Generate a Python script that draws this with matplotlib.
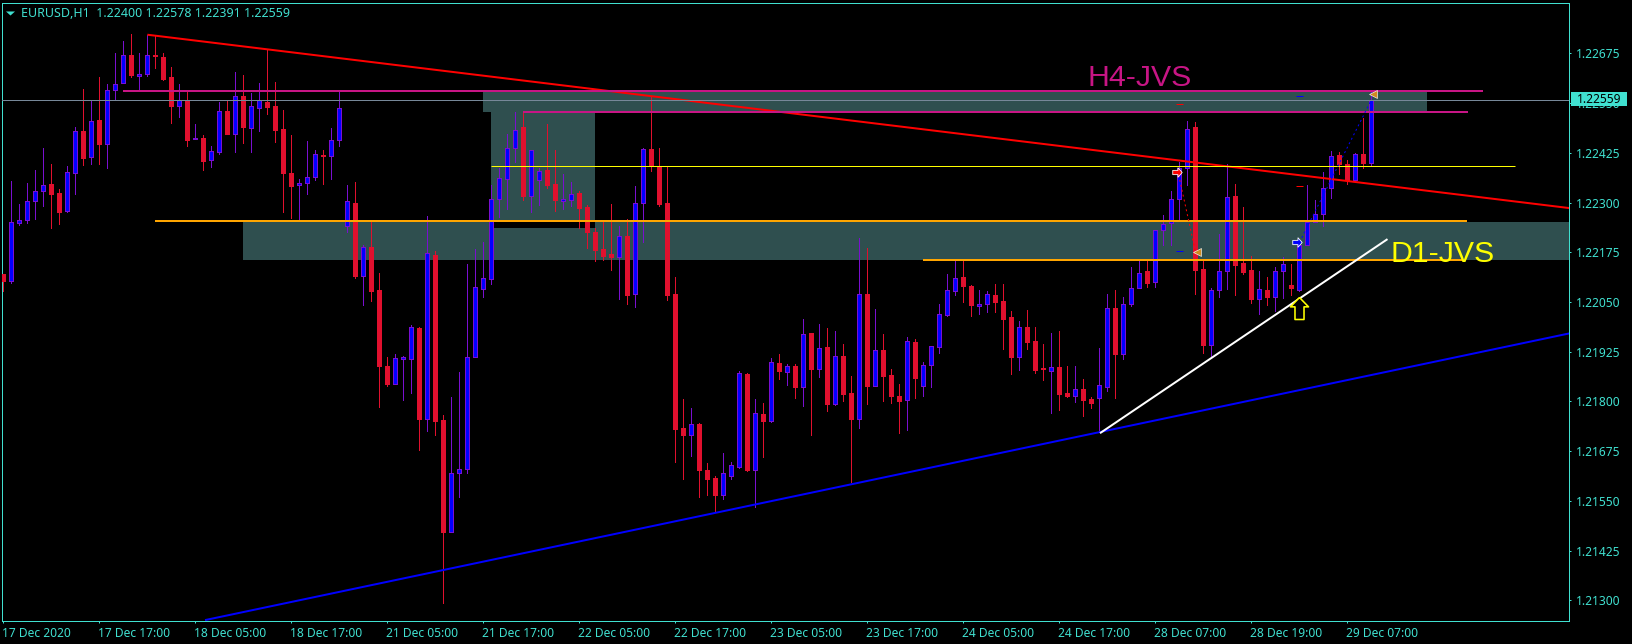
import numpy as np
import matplotlib
matplotlib.use("Agg")
import matplotlib.pyplot as plt
from matplotlib.patches import Rectangle
from matplotlib.path import Path
from matplotlib.transforms import blended_transform_factory, ScaledTranslation

# hourly bars, prices in 1/100000
open_ = [122120, 122103, 122249, 122257, 122304, 122330, 122346, 122324, 122279, 122375, 122480, 122415,
         122507, 122447, 122584, 122601, 122671, 122619, 122624, 122672, 122666, 122615, 122543, 122559,
         122460, 122462, 122408, 122427, 122529, 122473, 122569, 122488, 122538, 122554, 122542, 122484,
         122374, 122345, 122350, 122365, 122419, 122418, 122458, 122242, 122298, 122116, 122187, 122080,
         121889, 121844, 121907, 121907, 121984, 121756, 122167, 121752, 121472, 121621, 121631, 121912,
         122083, 122108, 122308, 122358, 122438, 122489, 122317, 122357, 122382, 122346, 122305, 122307,
         122323, 122289, 122227, 122182, 122170, 122164, 122216, 122071, 122299, 122434, 122390, 122300,
         122070, 121732, 121715, 121743, 121627, 121607, 121565, 121613, 121635, 121869, 121628, 121768,
         121751, 121896, 121875, 121889, 121836, 121972, 121882, 121937, 121794, 121914, 121821, 121756,
         122069, 121839, 121929, 121866, 121813, 121804, 121949, 121839, 121892, 121937, 122018, 122078,
         122112, 122090, 122040, 122046, 122067, 122052, 122011, 121912, 121986, 121951, 121884, 121877,
         121886, 121821, 121814, 121831, 121806, 121809, 121837, 122036, 121920, 122046, 122086, 122128,
         122101, 122232, 122248, 122309, 122388, 122489, 122132, 121942, 122081, 122128, 122316, 122147,
         122130, 122058, 122080, 122063, 122128, 122092, 122080, 122192, 122251, 122272, 122337, 122419,
         122397, 122356, 122422, 122400]
high = [122120, 122353, 122296, 122349, 122382, 122436, 122397, 122333, 122391, 122490, 122585, 122558,
        122615, 122599, 122675, 122705, 122724, 122675, 122722, 122722, 122675, 122640, 122598, 122578,
        122497, 122469, 122442, 122553, 122558, 122627, 122620, 122575, 122600, 122685, 122603, 122532,
        122470, 122359, 122455, 122432, 122432, 122487, 122579, 122343, 122351, 122192, 122253, 122123,
        121911, 121919, 121913, 121992, 121988, 122266, 122178, 121766, 121811, 121873, 122145, 122183,
        122201, 122344, 122387, 122472, 122527, 122526, 122431, 122387, 122497, 122432, 122373, 122351,
        122328, 122295, 122236, 122251, 122296, 122241, 122258, 122341, 122437, 122566, 122437, 122390,
        122113, 121806, 121783, 121746, 121645, 121612, 121670, 121648, 121876, 121871, 121806, 121796,
        121909, 121919, 121894, 121894, 122007, 121972, 121994, 121984, 121977, 121944, 121864, 122211,
        122185, 122032, 121969, 121881, 121844, 121962, 121957, 121899, 121938, 122045, 122120, 122155,
        122155, 122092, 122080, 122077, 122095, 122095, 122027, 122002, 122030, 121987, 121944, 121972,
        121977, 121889, 121889, 121856, 121811, 121934, 122070, 122080, 122062, 122138, 122153, 122153,
        122230, 122268, 122329, 122402, 122505, 122502, 122153, 122085, 122221, 122397, 122346, 122289,
        122165, 122128, 122113, 122138, 122163, 122145, 122198, 122344, 122306, 122377, 122429, 122427,
        122407, 122424, 122512, 122578]
low = [122078, 122098, 122243, 122249, 122258, 122291, 122236, 122246, 122276, 122321, 122394, 122398,
       122398, 122387, 122559, 122601, 122615, 122583, 122618, 122638, 122608, 122500, 122515, 122442,
       122460, 122382, 122389, 122422, 122472, 122427, 122449, 122427, 122480, 122522, 122452, 122276,
       122261, 122254, 122321, 122356, 122346, 122359, 122442, 122226, 122110, 122042, 122052, 121786,
       121839, 121844, 121804, 121821, 121678, 121725, 121715, 121294, 121472, 121560, 121621, 121912,
       122062, 122095, 122263, 122285, 122402, 122306, 122276, 122293, 122336, 122279, 122283, 122291,
       122236, 122185, 122153, 122155, 122130, 122057, 122045, 122037, 122202, 122379, 122291, 122055,
       121648, 121605, 121663, 121559, 121565, 121522, 121554, 121605, 121632, 121625, 121534, 121660,
       121748, 121856, 121841, 121808, 121788, 121715, 121861, 121776, 121791, 121801, 121597, 121733,
       121793, 121839, 121801, 121796, 121720, 121728, 121808, 121813, 121836, 121922, 122015, 122067,
       122050, 122015, 122020, 122025, 122025, 121932, 121869, 121879, 121932, 121871, 121854, 121771,
       121778, 121811, 121798, 121763, 121783, 121723, 121826, 121808, 121907, 122040, 122086, 122087,
       122087, 122193, 122193, 122256, 122344, 122070, 121921, 121911, 122062, 122082, 122067, 122120,
       122047, 122020, 122042, 122027, 122060, 122067, 122077, 122192, 122251, 122241, 122311, 122372,
       122346, 122356, 122387, 122391]
close = [122103, 122250, 122256, 122305, 122330, 122343, 122321, 122276, 122376, 122479, 122412, 122504,
         122447, 122584, 122599, 122670, 122620, 122622, 122672, 122669, 122610, 122543, 122559, 122457,
         122462, 122404, 122429, 122529, 122472, 122569, 122490, 122542, 122557, 122540, 122482, 122374,
         122341, 122348, 122363, 122421, 122418, 122456, 122537, 122305, 122115, 122187, 122077, 121890,
         121844, 121908, 121911, 121986, 121756, 122172, 121751, 121472, 121619, 121629, 121911, 122087,
         122109, 122310, 122361, 122438, 122483, 122317, 122431, 122380, 122343, 122306, 122310, 122322,
         122287, 122226, 122181, 122165, 122162, 122215, 122067, 122300, 122434, 122392, 122296, 122067,
         121730, 121715, 121742, 121627, 121605, 121565, 121619, 121639, 121871, 121627, 121771, 121751,
         121898, 121876, 121888, 121836, 121969, 121881, 121933, 121793, 121913, 121818, 121756, 122069,
         121839, 121928, 121864, 121813, 121801, 121951, 121859, 121891, 121938, 122019, 122079, 122109,
         122091, 122042, 122046, 122069, 122050, 122007, 121911, 121986, 121949, 121879, 121882, 121886,
         121818, 121813, 121830, 121803, 121796, 121840, 122036, 121919, 122046, 122084, 122124, 122098,
         122230, 122245, 122308, 122388, 122486, 122131, 121942, 122079, 122127, 122315, 122143, 122125,
         122057, 122082, 122062, 122129, 122145, 122085, 122193, 122251, 122270, 122336, 122416, 122398,
         122356, 122421, 122399, 122559]

date_labels = ["17 Dec 2020", "17 Dec 17:00", "18 Dec 05:00", "18 Dec 17:00", "21 Dec 05:00",
               "21 Dec 17:00", "22 Dec 05:00", "22 Dec 17:00", "23 Dec 05:00", "23 Dec 17:00",
               "24 Dec 05:00", "24 Dec 17:00", "28 Dec 07:00", "28 Dec 19:00", "29 Dec 07:00"]
price_ticks = [1.22675, 1.22550, 1.22425, 1.22300, 1.22175, 1.22050, 1.21925,
               1.21800, 1.21675, 1.21550, 1.21425, 1.21300]

# zones and trend lines: (bar index, price)
zone_d1 = [29.94, 195.75, 1.22155, 1.22251]
zone_h4 = [59.94, 177.9, 1.22528, 1.22580]
zone_mid = [60.94, 73.94, 1.22236, 1.22528]
red_trend = [(17.98, 1.22722), (195.75, 1.22286)]
blue_trend = [(25.19, 1.21250), (195.75, 1.21971)]
white_trend = [(137.06, 1.21720), (173.0, 1.22208)]
h4_top = [(14.97, 1.22581), (185.0, 1.22581)]
h4_bot = [(65.0, 1.22527), (183.06, 1.22527)]
yellow_level = [(60.94, 1.22391), (188.9, 1.22391)]
orange_top = [(18.94, 1.22254), (183.0, 1.22254)]
orange_bot = [(115.0, 1.22155), (182.4, 1.22155)]
last_price = 1.22559

BG = "#000000"
TURQ = "#40e0d0"
TEAL = "#2f4f4f"
UP_BODY = "#0000ff"
UP_EDGE = "#7a0fd0"
DOWN = "#e0102e"
MAGENTA = "#c71585"
FONT = "Noto Sans"

W, H = 1633, 644
PX = 72 / 100  # one pixel in points at dpi 100


def trend(ax, pts, color, lw=2, z=4):
    xs = [p[0] for p in pts]
    ys = [p[1] for p in pts]
    ax.plot(xs, ys, color=color, lw=lw * PX, solid_capstyle="butt", zorder=z)


def zone(ax, box, color=TEAL):
    x0, x1, y0, y1 = box
    ax.add_patch(Rectangle((x0, y0), x1 - x0, y1 - y0, fc=color, ec="none", zorder=1))


fig = plt.figure(figsize=(W / 100, H / 100), dpi=100, facecolor=BG)
ax = fig.add_axes([2.5 / W, (H - 620.5) / H, 1567 / W, 618 / H], facecolor=BG)
ax.set_xlim(-0.125, 195.75)
ax.set_ylim(1.21249, 1.22803)

zone(ax, zone_d1)
zone(ax, zone_h4)
zone(ax, zone_mid)
# the platform XORs overlapping zones, so their overlap comes out black
zone(ax, [zone_mid[0], zone_mid[1], zone_mid[2], zone_d1[3]], BG)

o = np.array(open_) / 1e5
h = np.array(high) / 1e5
l = np.array(low) / 1e5
c = np.array(close) / 1e5
idx = np.arange(len(o))
up = c >= o

ax.vlines(idx[up], l[up], h[up], color=UP_EDGE, lw=PX, zorder=2, antialiased=False)
ax.vlines(idx[~up], l[~up], h[~up], color=DOWN, lw=PX, zorder=2, antialiased=False)
ax.bar(idx[up], (c - o)[up], bottom=o[up], width=0.5, fc=UP_BODY, ec=UP_EDGE,
       lw=PX, zorder=3, antialiased=False)
ax.bar(idx[~up], (o - c)[~up], bottom=c[~up], width=0.5, fc=DOWN, ec=DOWN,
       lw=PX, zorder=3, antialiased=False)

trend(ax, red_trend, "#ff0000")
trend(ax, blue_trend, "#0000ff")
trend(ax, h4_top, MAGENTA)
trend(ax, h4_bot, MAGENTA)
trend(ax, yellow_level, "#ffff00", lw=1)
trend(ax, orange_top, "#ffa500")
trend(ax, orange_bot, "#ffa500")
trend(ax, white_trend, "#ffffff", z=5)
ax.axhline(last_price, color="#778899", lw=PX, zorder=4)

# trades: entry arrows, exit triangles, dotted links, stop/target dashes
ax.plot([146.9, 149.0], [1.22369, 1.22176], color="#ff0000", lw=PX, ls=(0, (2, 3)), zorder=5)
ax.plot([162.0, 171.0], [1.22200, 1.22559], color="#0000ff", lw=PX, ls=(0, (2, 3)), zorder=5)
ax.plot([146.9, 162.0], [1.22547, 1.22341], ls="none", marker="_", ms=7 * PX, mew=PX, color="#ff0000", zorder=5)
ax.plot([162.0, 146.9], [1.22569, 1.22177], ls="none", marker="_", ms=7 * PX, mew=PX, color="#0000ff", zorder=5)
ax.plot([149.15, 171.2], [1.22175, 1.22572], ls="none", marker="<", ms=8 * PX, mfc="#d08a20",
        mec="#ffffff", mew=0.6 * PX, zorder=6)
right_arrow = Path([(1, 0), (0.1, 1), (0.1, 0.45), (-1, 0.45), (-1, -0.45), (0.1, -0.45), (0.1, -1), (1, 0)])
ax.plot([146.7], [1.22376], ls="none", marker=right_arrow, ms=9.5 * PX, mfc="#ff0000", mec="#ffffff", mew=0.8 * PX, zorder=6)
ax.plot([161.65], [1.22200], ls="none", marker=right_arrow, ms=9.5 * PX, mfc="#0000ff", mec="#ffffff", mew=0.8 * PX, zorder=6)
up_arrow = Path([(0, 1), (0.82, 0.15), (0.41, 0.15), (0.41, -1), (-0.41, -1), (-0.41, 0.15), (-0.82, 0.15), (0, 1)])
ax.plot([161.94], [1.22034], ls="none", marker=up_arrow, ms=22 * PX, mfc=BG, mec="#ffff00", mew=1.6 * PX, zorder=6)

ax.text(135.5, 1.22592, "H4-JVS", family="Liberation Sans", fontsize=21.8, color=MAGENTA,
        ha="left", va="baseline", zorder=6)
ax.text(173.4, 1.22151, "D1-JVS", family="Liberation Sans", fontsize=21.8, color="#ffff00",
        ha="left", va="baseline", zorder=6)

for s in ax.spines.values():
    s.set_color(TURQ)
    s.set_linewidth(PX)

ax.yaxis.tick_right()
ax.set_yticks(price_ticks)
ax.set_yticklabels([f"{p:.5f}" for p in price_ticks], family=FONT, fontsize=8.65, color=TURQ)
ax.set_xticks(np.arange(len(date_labels)) * 12)
ax.set_xticklabels(date_labels, family=FONT, fontsize=8.65, color=TURQ, ha="left")
ax.tick_params(axis="y", length=2.5 * PX, width=PX, color=TURQ, pad=3)
ax.tick_params(axis="x", length=2.5 * PX, width=PX, color=TURQ, pad=2.6)
# date labels start just left of their tick
shift = ScaledTranslation(-1 / 100, 0, fig.dpi_scale_trans)
for t in ax.get_xticklabels():
    t.set_transform(t.get_transform() + shift)

# current price tag sits over the axis labels
tag_tf = blended_transform_factory(fig.transFigure, ax.transData)
ax.add_patch(Rectangle((1571 / W, last_price - 0.00017), 56 / W, 0.00035, transform=tag_tf,
                       fc=TURQ, ec="none", clip_on=False, zorder=7))
ax.text(1576.5 / W, last_price, f"{last_price:.5f}", transform=tag_tf, family=FONT, fontsize=8.65,
        color="#000000", ha="left", va="center", zorder=8, clip_on=False)

# chart header
fig.text(21 / W, 1 - 17.3 / H, "EURUSD,H1  1.22400 1.22578 1.22391 1.22559", family=FONT, fontsize=8.95,
         color=TURQ, ha="left", va="baseline")
flat_tri = Path([(-1, 0.45), (1, 0.45), (0, -0.45), (-1, 0.45)])
ax.plot([10.3 / W], [1 - 12.8 / H], transform=fig.transFigure, marker=flat_tri, ms=9 * PX, color=TURQ,
        mew=0, ls="none", clip_on=False, zorder=8)

fig.savefig("out.png", dpi=100, facecolor=BG)
plt.close(fig)
